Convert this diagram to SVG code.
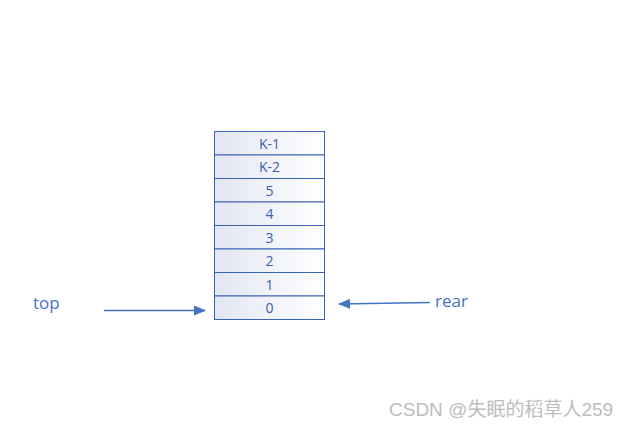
<svg xmlns="http://www.w3.org/2000/svg" width="632" height="429" viewBox="0 0 632 429">
<style>
.cell{stroke:#3a62b3;stroke-width:1;fill:url(#g)}
.ct{font-family:"Open Sans","Noto Sans",sans-serif;font-size:14px;fill:#3a5fb0;text-anchor:middle}
.lbl{font-family:"Open Sans","Noto Sans",sans-serif;font-size:17px;fill:#4472c4}
.conn{stroke:#4472c4;stroke-width:1.5;fill:none;marker-end:url(#ah)}
.wm{font-family:"Liberation Sans","Noto Sans CJK SC",sans-serif;font-size:19px;fill:#bdbdbd}
</style>
<defs>
<linearGradient id="g" x1="0" y1="0" x2="1" y2="0">
<stop offset="0" stop-color="#e2e6f1"/>
<stop offset="1" stop-color="#ffffff"/>
</linearGradient>
<marker id="ah" markerWidth="12" markerHeight="10" refX="11" refY="5" orient="auto" markerUnits="userSpaceOnUse">
<path d="M0,0 L12,5 L0,10 Z" fill="#4472c4"/>
</marker>
</defs>
<rect width="632" height="429" fill="#ffffff"/>
<g id="stack">
<g id="cell-k1"><rect class="cell" x="214.5" y="131.5" width="110" height="23.5"/><text class="ct" x="269.5" y="148.5">K-1</text></g>
<g id="cell-k2"><rect class="cell" x="214.5" y="155" width="110" height="23.5"/><text class="ct" x="269.5" y="172">K-2</text></g>
<g id="cell-5"><rect class="cell" x="214.5" y="178.5" width="110" height="23.5"/><text class="ct" x="269.5" y="195.5">5</text></g>
<g id="cell-4"><rect class="cell" x="214.5" y="202" width="110" height="23.5"/><text class="ct" x="269.5" y="219">4</text></g>
<g id="cell-3"><rect class="cell" x="214.5" y="225.5" width="110" height="23.5"/><text class="ct" x="269.5" y="242.5">3</text></g>
<g id="cell-2"><rect class="cell" x="214.5" y="249" width="110" height="23.5"/><text class="ct" x="269.5" y="266">2</text></g>
<g id="cell-1"><rect class="cell" x="214.5" y="272.5" width="110" height="23.5"/><text class="ct" x="269.5" y="289.5">1</text></g>
<g id="cell-0"><rect class="cell" x="214.5" y="296" width="110" height="23.5"/><text class="ct" x="269.5" y="313">0</text></g>
</g>
<g id="top"><text class="lbl" x="33" y="309">top</text></g>
<g id="rear"><text class="lbl" x="435" y="307">rear</text></g>
<g id="connectors">
<line class="conn" x1="104" y1="310.5" x2="205" y2="310.5"/>
<line class="conn" x1="430" y1="302.5" x2="339" y2="304"/>
</g>
<text class="wm" x="389" y="416">CSDN @失眠的稻草人259</text>
</svg>
